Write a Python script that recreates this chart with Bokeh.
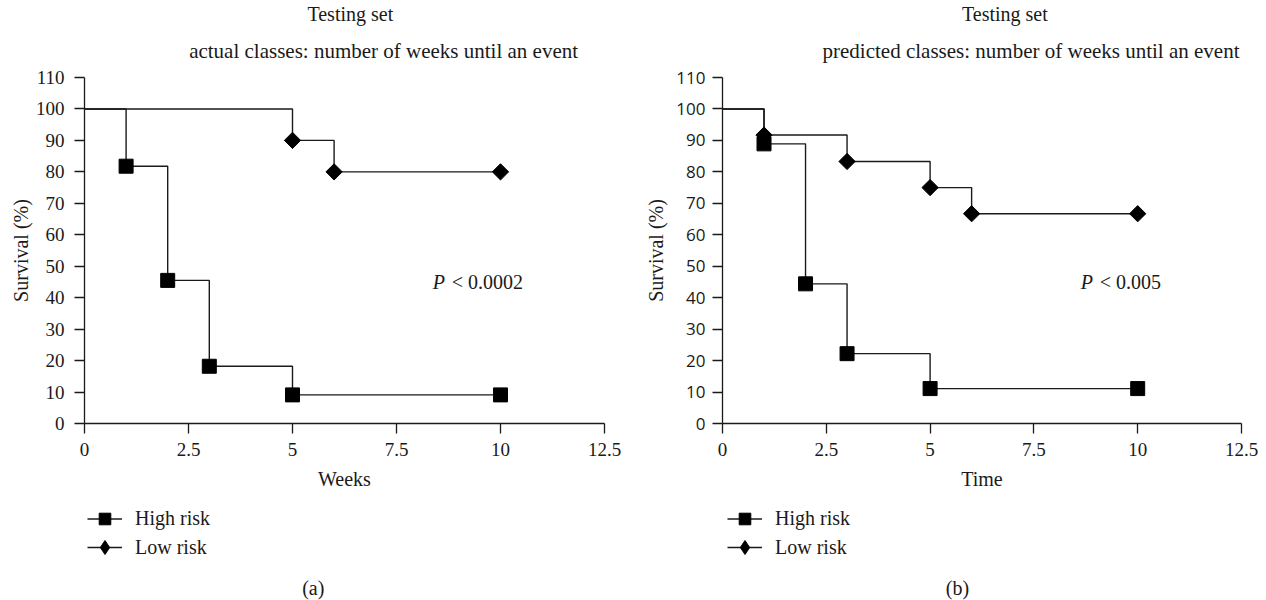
import numpy as np
from bokeh.plotting import figure
from bokeh.layouts import row, column
from bokeh.models import Range1d, FixedTicker, Label, Legend, LegendItem
from bokeh.embed import file_html
from bokeh.resources import INLINE

# ---- data ----
x_ticks = [0, 2.5, 5, 7.5, 10, 12.5]
x_tick_labels = ["0", "2.5", "5", "7.5", "10", "12.5"]
y_ticks = [0, 10, 20, 30, 40, 50, 60, 70, 80, 90, 100, 110]

# (a) actual classes
weeks_a_high = [0, 1, 2, 3, 5, 10]
surv_a_high = [100, 81.8, 45.5, 18.2, 9.1, 9.1]
weeks_a_low = [0, 5, 6, 10]
surv_a_low = [100, 90, 80, 80]

# (b) predicted classes
time_b_high = [0, 1, 2, 3, 5, 10]
surv_b_high = [100, 88.9, 44.4, 22.2, 11.1, 11.1]
time_b_low = [0, 1, 3, 5, 6, 10]
surv_b_low = [100, 91.7, 83.3, 75, 66.7, 66.7]

series_names = ["High risk", "Low risk"]

SERIF = "Liberation Serif"
SANS = "Open Sans"
INK = "#1a1a1a"
FS = "20px"
SUBFS = "21px"
TFS = "19px"

W = 633
TOP_H = 65
MAIN_H = 433
BOT_H = 600 - TOP_H - MAIN_H


def blank(height, y0, y1):
    # strips share the x scale of the main plot (column aligns the frames)
    f = figure(width=W, height=height, x_range=Range1d(0, 12.5), y_range=Range1d(y0, y1),
               x_axis_type=None, y_axis_type=None, output_backend="svg",
               toolbar_location=None, min_border=0)
    f.outline_line_color = None
    f.grid.visible = False
    return f


def add_series(f, hx, hy, lx, ly, low_marker="square", low_angle=np.pi / 4, low_size=11.5):
    sh = f.step(hx, hy, mode="after", line_color=INK, line_width=1.4)
    sl = f.step(lx, ly, mode="after", line_color=INK, line_width=1.4)
    mh = f.scatter(hx[1:], hy[1:], marker="square", size=14, fill_color="black", line_color="black")
    ml = f.scatter(lx[1:], ly[1:], marker=low_marker, angle=low_angle, size=low_size,
                   fill_color="black", line_color="black")
    return sh, sl, mh, ml


def txt(f, x, y, s, size=FS, align="center", style="normal", x_offset=0):
    f.add_layout(Label(x=x, y=y, x_offset=x_offset, text=s, text_align=align,
                       text_baseline="middle", text_font=SERIF, text_font_size=size,
                       text_font_style=style, text_color=INK))


def key(item, x, top, gh):
    return Legend(items=[item], location=(x, BOT_H - top - gh), orientation="vertical",
                  border_line_color=None, background_fill_alpha=0,
                  label_text_font=SERIF, label_text_font_size=FS, label_text_color=INK,
                  glyph_width=35, glyph_height=gh, label_height=gh, spacing=0,
                  padding=0, margin=0, label_standoff=13)


def panel(hx, hy, lx, ly, subtitle, xlabel, ptext, ppos, ytick_font, ytick_size, ytick_standoff,
          border_left, border_right, letter, title_x, sub_x, sub_align, sub_off, letter_x,
          legend_x, ylab_standoff):
    # --- titles strip ---
    top = blank(TOP_H, 0, TOP_H)
    txt(top, title_x, TOP_H - 13, "Testing set")
    txt(top, sub_x, TOP_H - 50, subtitle, size=SUBFS, align=sub_align, x_offset=sub_off)

    # --- main plot ---
    p = figure(width=W, height=MAIN_H, x_range=Range1d(0, 12.5), y_range=Range1d(0, 110),
               output_backend="svg", toolbar_location=None,
               min_border_left=border_left, min_border_right=border_right,
               min_border_top=12, min_border_bottom=MAIN_H - 12 - 346)
    p.outline_line_color = None
    p.grid.visible = False

    for ax in (p.xaxis[0], p.yaxis[0]):
        ax.axis_line_color = INK
        ax.axis_line_width = 1.3
        ax.major_tick_line_color = INK
        ax.major_tick_line_width = 1.3
        ax.major_tick_out = 10
        ax.major_tick_in = 0
        ax.minor_tick_out = 0
        ax.minor_tick_in = 0
        ax.major_label_text_color = INK
        ax.axis_label_text_color = INK
        ax.axis_label_text_font = SERIF
        ax.axis_label_text_font_size = FS
        ax.axis_label_text_font_style = "normal"

    p.xaxis.ticker = FixedTicker(ticks=x_ticks)
    p.xaxis.major_label_overrides = {t: s for t, s in zip(x_ticks, x_tick_labels)}
    p.xaxis.major_label_text_font = SERIF
    p.xaxis.major_label_text_font_size = TFS
    p.xaxis.major_label_standoff = 9
    p.xaxis.axis_label = xlabel
    p.xaxis.axis_label_standoff = 9

    p.yaxis.ticker = FixedTicker(ticks=y_ticks)
    p.yaxis.major_label_overrides = {t: str(t) for t in y_ticks}
    p.yaxis.major_label_text_font = ytick_font
    p.yaxis.major_label_text_font_size = ytick_size
    p.yaxis.major_label_standoff = ytick_standoff
    p.yaxis.axis_label = "Survival (%)"
    p.yaxis.axis_label_standoff = ylab_standoff

    add_series(p, hx, hy, lx, ly)

    txt(p, ppos[0], ppos[1], "P", align="left", style="italic")
    txt(p, ppos[0], ppos[1], ptext, align="left", x_offset=19)

    # --- legend + panel letter strip (series drawn out of view, used only as legend keys) ---
    bot = blank(BOT_H, -300, -300 + BOT_H)
    sh, sl, mh, ml = add_series(bot, hx, hy, lx, ly, low_marker="diamond", low_angle=0,
                                low_size=17)
    bot.add_layout(key(LegendItem(label=series_names[0], renderers=[sh, mh]), legend_x, 5.5, 29))
    bot.add_layout(key(LegendItem(label=series_names[1], renderers=[sl, ml]), legend_x, 28, 42))
    txt(bot, letter_x, -300 + BOT_H - 89, letter)

    return column(top, p, bot, spacing=0)


pa = panel(weeks_a_high, surv_a_high, weeks_a_low, surv_a_low,
           "actual classes: number of weeks until an event", "Weeks", "< 0.0002", (8.37, 45),
           SERIF, TFS, 10, 84, 29, "(a)", 6.39, 7.19, "center", 0, 5.5, 3, 1)
pb = panel(time_b_high, surv_b_high, time_b_low, surv_b_low,
           "predicted classes: number of weeks until an event", "Time", "< 0.005", (8.63, 45),
           SANS, "17px", 7, 89, 25, "(b)", 6.8, 12.5, "right", -2, 5.66, 5, 6)

layout = row(pa, pb, spacing=0)
open("out.html", "w").write(file_html(layout, INLINE))
